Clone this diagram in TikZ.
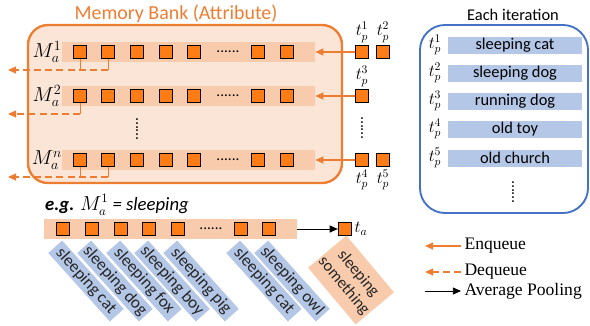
\documentclass[tikz,border=0pt]{standalone}
\usepackage{fontspec}
\setsansfont{Carlito}
\newfontfamily\legendfont{Liberation Serif}
\usetikzlibrary{arrows.meta,positioning}

\definecolor{bankline}{RGB}{237,125,49}
\definecolor{bankfill}{RGB}{251,229,214}
\definecolor{stripfill}{RGB}{248,203,173}
\definecolor{cellfill}{RGB}{255,124,22}
\definecolor{barfill}{RGB}{180,199,231}
\definecolor{iterline}{RGB}{68,114,196}
\definecolor{tagtext}{RGB}{38,38,38}

\tikzset{
  cell/.style={draw=black, line width=0.8pt, fill=cellfill, minimum size=0.4cm, inner sep=0pt},
  strip/.style={fill=stripfill, minimum width=7.59cm, minimum height=0.6cm, inner sep=0pt},
  bar/.style={fill=barfill, minimum width=4.02cm, minimum height=0.51cm, inner sep=0pt, font=\sffamily\fontsize{14}{16}\selectfont},
  tag/.style={fill=barfill, text=tagtext, rotate=-48, minimum width=2.76cm, minimum height=0.56cm, inner sep=0pt, font=\sffamily\fontsize{14.5}{16}\selectfont},
  hdots/.style={font=\sffamily\fontsize{13}{15}\selectfont, inner sep=0pt},
  vdots/.style={hdots, rotate=90},
  enq/.style={draw=bankline, line width=1.1pt, -{Triangle[width=6pt,length=7pt]}},
  deq/.style={enq, dash pattern=on 6pt off 3.5pt},
  deqdrop/.style={draw=bankline, line width=0.8pt},
  pool/.style={draw=black, line width=0.8pt, -{Triangle[width=6pt,length=7pt]}},
  mlabel/.style={font=\fontsize{17}{19}\selectfont, inner sep=0pt},
  tlabel/.style={font=\fontsize{14}{16}\selectfont, inner sep=0pt},
  legend/.style={anchor=west, font=\legendfont\fontsize{15}{17}\selectfont, inner sep=0pt, outer sep=3pt}
}

\begin{document}
\begin{tikzpicture}[x=0.03cm, y=-0.03cm]

    \useasboundingbox (0,0) rectangle (590,325);

    \node[draw=bankline, line width=2pt, fill=bankfill, rounded corners=0.6cm,
          minimum width=9.42cm, minimum height=4.74cm] (bank) at (185,104) {};
    \node[anchor=base, text=bankline, font=\sffamily\fontsize{17}{20}\selectfont] (banktitle) at (176,19) {Memory Bank (Attribute)};

    \foreach \r/\y/\s in {1/52/1, 2/96/2, n/160/n} {
        \node[strip] (strip\r) at (188.5,\y) {};
        \node[mlabel] (mlab\r) at (47,\y) {$M_a^{\s}$};
        \foreach \i/\x in {1/80, 2/108, 3/137, 4/166, 5/194, 6/258, 7/287}
            \node[cell] (cell\r\i) at (\x,\y) {};
        \node[hdots] (dots\r) at (228,\y) {......};
    }
    \node[vdots] (bankdots) at (137,129) {......};

    \coordinate (deq1) at (8,70);
    \coordinate (deq2) at (8,114);
    \coordinate (deqn) at (8,177);
    \draw[deqdrop] (cell11.south) -- (cell11.south |- deq1);
    \draw[deqdrop] (cell12.south) -- (cell12.south |- deq1);
    \draw[deq] (cell12.south |- deq1) -- (deq1);
    \draw[deqdrop] (cell21.south) -- (cell21.south |- deq2);
    \draw[deq] (cell21.south |- deq2) -- (deq2);
    \draw[deqdrop] (celln1.south) -- (celln1.south |- deqn);
    \draw[deqdrop] (celln2.south) -- (celln2.south |- deqn);
    \draw[deq] (celln2.south |- deqn) -- (deqn);

    \node[cell] (tp1) at (362,52) {};
    \node[cell] (tp2) at (383,52) {};
    \node[cell] (tp3) at (362,96) {};
    \node[cell] (tp4) at (362,160) {};
    \node[cell] (tp5) at (383,160) {};
    \node[tlabel, above=2pt of tp1] (tpl1) {$t_p^1$};
    \node[tlabel, above=2pt of tp2] (tpl2) {$t_p^2$};
    \node[tlabel, above=2pt of tp3] (tpl3) {$t_p^3$};
    \node[tlabel, below=2pt of tp4] (tpl4) {$t_p^4$};
    \node[tlabel, below=2pt of tp5] (tpl5) {$t_p^5$};
    \node[vdots] (tpdots) at (362,128) {......};

    \draw[enq] (tp1.west) -- (strip1.east);
    \draw[enq] (tp3.west) -- (strip2.east);
    \draw[enq] (tp4.west) -- (stripn.east);

    \node[draw=iterline, line width=1.6pt, rounded corners=0.75cm,
          minimum width=5.04cm, minimum height=5.64cm] (iterbox) at (504,119) {};
    \node[font=\sffamily\fontsize{14}{16}\selectfont] (itertitle) at (513,15) {Each iteration};
    \foreach \k/\y/\txt in {1/45/sleeping cat, 2/73/sleeping dog, 3/101/running dog, 4/129/old toy, 5/158/old church} {
        \node[bar] (bar\k) at (515,\y) {\txt};
        \node[tlabel] (iterlab\k) at (435,\y) {$t_p^{\k}$};
    }
    \node[vdots] (iterdots) at (513,192) {......};

    \node[anchor=west, inner sep=0pt, font=\sffamily\fontsize{16}{19}\selectfont] (eg) at (45,205)
        {\textbf{\textit{e.g.}} $M_a^1$ \textit{= sleeping}};
    \node[strip] (pstrip) at (170.5,229) {};
    \foreach \i/\x in {1/63, 2/92, 3/121, 4/149, 5/178, 6/241, 7/269}
        \node[cell] (pcell\i) at (\x,229) {};
    \node[hdots] (pdots) at (211,229) {......};
    \foreach \i/\x/\txt in {1/86/sleeping cat, 2/115/sleeping dog, 3/144/sleeping fox, 4/172/sleeping boy,
                            5/201/sleeping pig, 6/264/sleeping cat, 7/292/sleeping owl}
        \node[tag] (tag\i) at (\x,281) {\txt};

    \node[cell] (ta) at (345,229) {};
    \node[tlabel, right=2pt of ta] (talab) {$t_a$};
    \draw[pool] (pstrip.east) -- (ta.west);
    \node[fill=stripfill, text=tagtext, rotate=-50, minimum width=2.22cm, minimum height=1.5cm, inner sep=0pt,
          align=center, font=\sffamily\fontsize{14}{16}\selectfont] (tagsum) at (351,280) {sleeping\\something};

    \node[legend] (enqtext) at (461,246) {Enqueue};
    \node[legend] (deqtext) at (461,272) {Dequeue};
    \node[legend] (pooltext) at (461,291) {Average Pooling};
    \coordinate (enqend) at (425,246);
    \coordinate (deqend) at (425,272);
    \coordinate (poolstart) at (425,291);
    \draw[enq] (enqtext.west) -- (enqend);
    \draw[deq] (deqtext.west) -- (deqend);
    \draw[pool] (poolstart) -- (pooltext.west);

\end{tikzpicture}
\end{document}
